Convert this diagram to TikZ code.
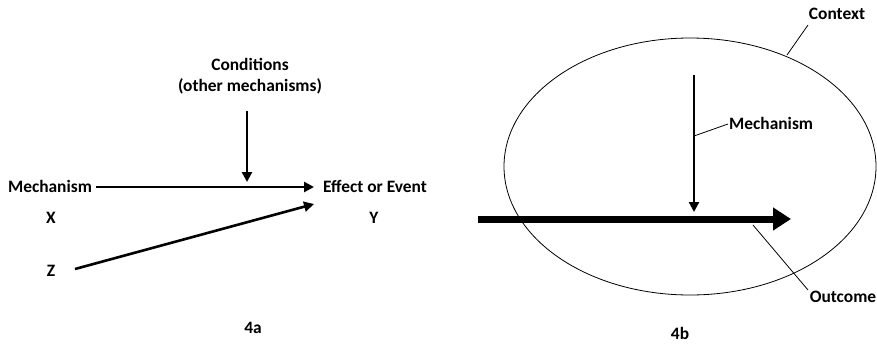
\documentclass[tikz,border=0pt]{standalone}
\usepackage{fontspec}
\setmainfont{Carlito}
\usetikzlibrary{arrows.meta,shapes.geometric}
\begin{document}
\begin{tikzpicture}[x=1pt,y=-1pt,
  lbl/.style={font=\fontsize{17.4}{20.5}\selectfont\bfseries, inner sep=0pt, align=center},
  arr/.style={line width=2.6pt, -{Triangle[length=10pt,width=10pt]}},
  bigarr/.style={line width=7pt, -{Triangle[length=18pt,width=22pt]}},
  leader/.style={line width=0.8pt}]
\useasboundingbox (0,0) rectangle (877,343);
% 4a
\node[lbl] (cond) at (250,76) {Conditions\\(other mechanisms)};
\node[lbl] (mechL) at (50,186) {Mechanism};
\node[lbl] (eff) at (375,186) {Effect or Event};
\node[lbl] (X) at (51,218) {X};
\node[lbl] (Y) at (374,218) {Y};
\node[lbl] (Z) at (51,271) {Z};
\node[lbl] (fa) at (253,328) {4a};
\coordinate (cs) at (247,111);
\coordinate (ce) at (247,182);
\coordinate (ms) at (96,187);
\coordinate (me) at (314,187);
\coordinate (zs) at (75,269);
\coordinate (ze) at (314,204);
\draw[arr] (cs) -- (ce);
\draw[arr] (ms) -- (me);
\draw[arr] (zs) -- (ze);
% 4b
\node[draw, ellipse, line width=0.8pt, minimum width=372pt, minimum height=257pt, inner sep=0pt] (ctx) at (690,166.5) {};
\node[lbl] (context) at (837,14) {Context};
\node[lbl, anchor=west] (mechR) at (729,123) {Mechanism};
\node[lbl] (outcome) at (843,297) {Outcome};
\node[lbl] (fb) at (680,333) {4b};
\coordinate (vs) at (694,75);
\coordinate (ve) at (694,212);
\coordinate (hs) at (478,219);
\coordinate (he) at (791,219);
\draw[arr, line width=2.2pt] (vs) -- (ve);
\draw[bigarr] (hs) -- (he);
\coordinate (c1) at (808,25);
\coordinate (c2) at (787,55);
\coordinate (m1) at (728,124);
\coordinate (m2) at (694,136);
\coordinate (o1) at (753,225);
\coordinate (o2) at (808,290);
\draw[leader] (c1) -- (c2);
\draw[leader] (m1) -- (m2);
\draw[leader] (o1) -- (o2);
\end{tikzpicture}
\end{document}
